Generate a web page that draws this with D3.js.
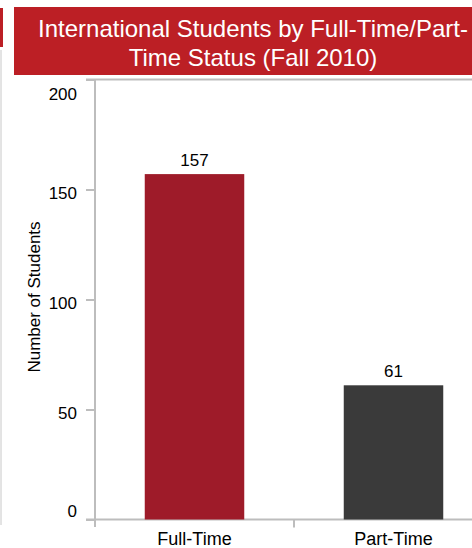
<!DOCTYPE html>
<html>
<head>
<meta charset="utf-8">
<script src="https://cdn.jsdelivr.net/npm/d3@7"></script>
<style>
  body { margin: 0; background: #fff; }
  text { font-family: "Liberation Sans", Arial, sans-serif; }
</style>
</head>
<body>
<script>
  var categories = ["Full-Time", "Part-Time"];
  var values = [157, 61];
  var colors = ["#9e1b29", "#3a3a3a"];
  var yTicks = [0, 50, 100, 150, 200];
  var titleLines = ["International Students by Full-Time/Part-", "Time Status (Fall 2010)"];

  var width = 472, height = 548;
  var svg = d3.select("body").append("svg")
    .attr("width", width)
    .attr("height", height);

  // left edge decoration
  svg.append("rect").attr("x", 0).attr("y", 8).attr("width", 3).attr("height", 39).attr("fill", "#bc1f25");
  svg.append("line").attr("x1", 1).attr("x2", 1).attr("y1", 50).attr("y2", 525)
    .attr("stroke", "#c8c8c8").attr("stroke-width", 1);

  // title box
  svg.append("rect").attr("x", 14).attr("y", 7).attr("width", 458).attr("height", 68).attr("fill", "#bc1f25");
  svg.append("text")
    .attr("x", 253).attr("y", 37)
    .attr("text-anchor", "middle")
    .attr("fill", "#fff")
    .style("font-size", "24px")
    .selectAll("tspan").data(titleLines).enter().append("tspan")
    .attr("x", 253)
    .attr("dy", function(d, i) { return i ? 29 : 0; })
    .text(function(d) { return d; });

  var x = d3.scaleBand().domain(categories).range([95, 493]).paddingInner(0.5).paddingOuter(0.25);
  var y = d3.scaleLinear().domain([0, 200]).range([519.5, 79.5]);

  // top border of plot
  svg.append("line").attr("x1", 86).attr("x2", width).attr("y1", y(200)).attr("y2", y(200))
    .attr("stroke", "#bdbdbd").attr("stroke-width", 2);

  var yAxis = svg.append("g")
    .attr("transform", "translate(95,0)")
    .call(d3.axisLeft(y).tickValues(yTicks).tickSize(9).tickPadding(9));
  yAxis.select(".domain").attr("stroke", "#bdbdbd").attr("stroke-width", 2).attr("d", "M0,79.5V527");
  yAxis.selectAll(".tick line").attr("stroke", "#bdbdbd").attr("stroke-width", 2);
  // labels sit a little below their ticks, and are kept inside the plot at the ends
  yAxis.selectAll(".tick text").style("font-size", "17px").attr("fill", "#000")
    .attr("dy", function(d) { return d === 200 ? "1.2em" : d === 0 ? "-0.15em" : "0.5em"; });

  var xAxis = svg.append("g")
    .attr("transform", "translate(0," + y(0) + ")")
    .call(d3.axisBottom(x).tickSize(0).tickPadding(13));
  xAxis.select(".domain").remove();
  xAxis.selectAll(".tick text").style("font-size", "18px").attr("fill", "#000");
  svg.append("line").attr("x1", 86).attr("x2", width).attr("y1", y(0)).attr("y2", y(0))
    .attr("stroke", "#bdbdbd").attr("stroke-width", 2);
  // separator tick between categories
  var seps = [x.range()[0] + x.step() * (x.paddingOuter() + 1 - x.paddingInner() / 2)];
  svg.selectAll(".sep").data(seps).enter().append("line")
    .attr("x1", function(d) { return d; }).attr("x2", function(d) { return d; })
    .attr("y1", y(0)).attr("y2", y(0) + 8)
    .attr("stroke", "#bdbdbd").attr("stroke-width", 2);

  svg.selectAll(".bar").data(values).enter().append("rect")
    .attr("x", function(d, i) { return x(categories[i]); })
    .attr("y", function(d) { return y(d); })
    .attr("width", x.bandwidth())
    .attr("height", function(d) { return y(0) - y(d); })
    .attr("fill", function(d, i) { return colors[i]; });

  svg.selectAll(".val").data(values).enter().append("text")
    .attr("x", function(d, i) { return x(categories[i]) + x.bandwidth() / 2; })
    .attr("y", function(d) { return y(d) - 8; })
    .attr("text-anchor", "middle")
    .style("font-size", "17px")
    .text(function(d) { return d; });

  svg.append("text")
    .attr("transform", "translate(40,297) rotate(-90)")
    .attr("text-anchor", "middle")
    .style("font-size", "17px")
    .text("Number of Students");
</script>
</body>
</html>
